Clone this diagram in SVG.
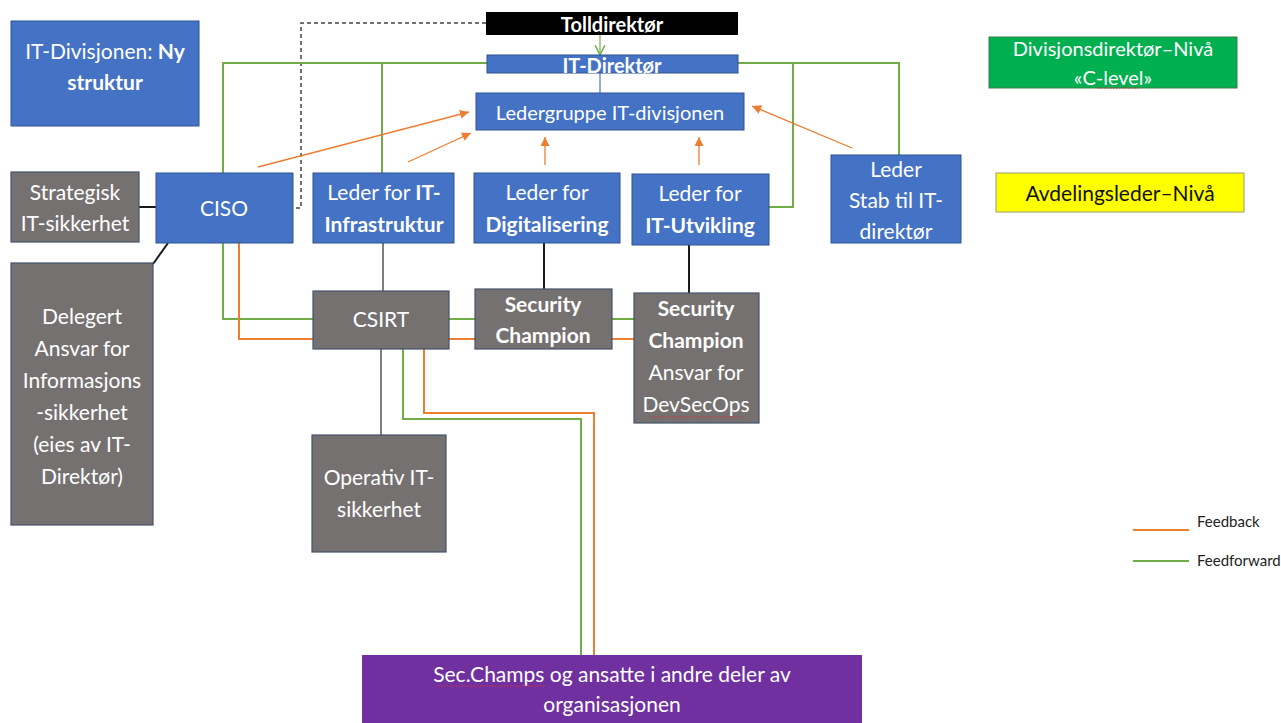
<svg xmlns="http://www.w3.org/2000/svg" width="1281" height="723" viewBox="0 0 1281 723">
  <defs>
    <style>
      text { font-family: Lato, "Open Sans", "Liberation Sans", sans-serif; font-size: 21px; fill: #ffffff; text-anchor: middle; }
      .b { font-weight: bold; }
      .blue { fill: #4472C4; stroke: #2F528F; stroke-width: 1; }
      .grey { fill: #767171; stroke: #44546A; stroke-width: 1.2; }
      .green { fill: none; stroke: #70AD47; stroke-width: 2; }
      .orange { fill: none; stroke: #ED7D31; stroke-width: 2; }
      .fb { fill: none; stroke: #ED7D31; stroke-width: 1.3; marker-end: url(#oarrow); }
      .blk { fill: none; stroke: #1a1a1a; stroke-width: 2; }
      .gry { fill: none; stroke: #555555; stroke-width: 1.5; }
      .squig { fill: none; stroke: #e03030; stroke-width: 1; stroke-dasharray: 1.5 1.5; }
      .legend { fill: #222222; font-size: 15px; text-anchor: start; }
    </style>
    <marker id="oarrow" viewBox="0 0 10 10" refX="10" refY="5" markerUnits="userSpaceOnUse" markerWidth="10" markerHeight="9" orient="auto">
      <path d="M0,0 L10,5 L0,10 z" fill="#ED7D31"/>
    </marker>
    <marker id="garrow" viewBox="0 0 10 10" refX="9" refY="5" markerUnits="userSpaceOnUse" markerWidth="12" markerHeight="12" orient="auto">
      <path d="M1,1 L9,5 L1,9" fill="none" stroke="#70AD47" stroke-width="1.2"/>
    </marker>
  </defs>

  <rect width="1281" height="723" fill="#ffffff"/>

  <!-- connectors -->
  <g id="connectors">
    <!-- dashed line from Tolldirektør to CISO -->
    <path d="M486,23 H301 V208 H293" fill="none" stroke="#444444" stroke-width="1.5" stroke-dasharray="4 3"/>
    <!-- feedforward from IT-Direktør -->
    <path class="green" d="M223,173 V63 H899 V155"/>
    <path class="green" d="M382,63 V173"/>
    <path class="green" d="M793,63 V207 H769"/>
    <!-- Tolldirektør -> IT-Direktør -->
    <path d="M600,35 V55" fill="none" stroke="#70AD47" stroke-width="1.2" marker-end="url(#garrow)"/>
    <!-- IT-Direktør - Ledergruppe -->
    <path d="M600,73 V93" fill="none" stroke="#6F8FC8" stroke-width="1.5"/>
    <!-- feedback arrows to Ledergruppe -->
    <path class="fb" d="M258,167 L469,112"/>
    <path class="fb" d="M408,162 L471,133"/>
    <path class="fb" d="M545,165 V137"/>
    <path class="fb" d="M699,165 V137"/>
    <path class="fb" d="M852,148 L752,106"/>
    <!-- CISO to CSIRT / Security Champions -->
    <path class="green" d="M223,243 V319 H634"/>
    <path class="orange" d="M239,243 V339 H634"/>
    <!-- CSIRT to Sec.Champs -->
    <path class="green" d="M403,349 V419 H581 V655"/>
    <path class="orange" d="M424,349 V413 H594 V655"/>
    <!-- solid reporting lines -->
    <path class="blk" d="M139,207 H156"/>
    <path class="blk" d="M153,264 L168,243"/>
    <path class="blk" d="M544,243 V289"/>
    <path class="blk" d="M689,245 V293"/>
    <path class="gry" d="M383,243 V291"/>
    <path class="gry" d="M381,349 V435"/>
  </g>

  <!-- nodes -->
  <g id="title">
    <rect class="blue" x="11" y="21" width="188" height="105"/>
    <text x="105" y="59">IT-Divisjonen: <tspan class="b">Ny</tspan></text>
    <text x="105" y="90" class="b">struktur</text>
  </g>

  <g id="tolldirektor">
    <rect x="486" y="12" width="252" height="23" fill="#000000"/>
    <text x="612" y="32" class="b" style="font-size:20px">Tolldirektør</text>
  </g>

  <g id="it-direktor">
    <rect class="blue" x="487" y="55" width="251" height="18"/>
    <text x="612" y="73" class="b" style="font-size:20px">IT-Direktør</text>
  </g>

  <g id="ledergruppe">
    <rect class="blue" x="476" y="93" width="268" height="37"/>
    <text x="610" y="120" style="font-size:20px">Ledergruppe IT-divisjonen</text>
  </g>

  <g id="strategisk">
    <rect class="grey" x="11" y="172" width="128" height="70"/>
    <text x="75" y="200">Strategisk</text>
    <text x="75" y="231">IT-sikkerhet</text>
  </g>

  <g id="ciso">
    <rect class="blue" x="156" y="173" width="137" height="70"/>
    <text x="224" y="216">CISO</text>
  </g>

  <g id="delegert">
    <rect class="grey" x="11" y="263" width="142" height="262"/>
    <text x="82" y="324">Delegert</text>
    <text x="82" y="356">Ansvar for</text>
    <text x="82" y="388">Informasjons</text>
    <text x="82" y="420">-sikkerhet</text>
    <text x="82" y="452">(eies av IT-</text>
    <text x="82" y="484">Direktør)</text>
  </g>

  <g id="leder-infrastruktur">
    <rect class="blue" x="313" y="173" width="141" height="70"/>
    <text x="384" y="200">Leder for <tspan class="b">IT-</tspan></text>
    <text x="384" y="232" class="b">Infrastruktur</text>
  </g>

  <g id="leder-digitalisering">
    <rect class="blue" x="474" y="173" width="146" height="70"/>
    <text x="547" y="200">Leder for</text>
    <text x="547" y="232" class="b">Digitalisering</text>
  </g>

  <g id="leder-utvikling">
    <rect class="blue" x="632" y="174" width="137" height="71"/>
    <text x="700" y="201">Leder for</text>
    <text x="700" y="233" class="b">IT-Utvikling</text>
  </g>

  <g id="leder-stab">
    <rect class="blue" x="831" y="155" width="130" height="88"/>
    <text x="896" y="177">Leder</text>
    <text x="896" y="208">Stab til IT-</text>
    <text x="896" y="239">direktør</text>
  </g>

  <g id="niva-c-level">
    <rect x="989" y="37" width="248" height="51" fill="#00B050" stroke="#3a7d4a" stroke-width="1"/>
    <text x="1113" y="56" style="font-size:20px">Divisjonsdirektør–Nivå</text>
    <text x="1113" y="85" style="font-size:20px">«C-level»</text>
    <path class="squig" d="M1098,88 H1140"/>
  </g>

  <g id="niva-avdelingsleder">
    <rect x="996" y="173" width="248" height="39" fill="#FFFF00" stroke="#9a9a7a" stroke-width="1"/>
    <text x="1120" y="201" style="fill:#111111">Avdelingsleder–Nivå</text>
  </g>

  <g id="csirt">
    <rect class="grey" x="313" y="291" width="136" height="58"/>
    <text x="381" y="327">CSIRT</text>
  </g>

  <g id="security-champion-1">
    <rect class="grey" x="475" y="289" width="137" height="60"/>
    <text x="543" y="312" class="b">Security</text>
    <text x="543" y="343" class="b">Champion</text>
  </g>

  <g id="security-champion-2">
    <rect class="grey" x="634" y="293" width="125" height="130"/>
    <text x="696" y="316" class="b">Security</text>
    <text x="696" y="348" class="b">Champion</text>
    <text x="696" y="380">Ansvar for</text>
    <text x="696" y="412">DevSecOps</text>
    <path class="squig" d="M651,417 H742"/>
  </g>

  <g id="operativ">
    <rect class="grey" x="312" y="435" width="134" height="117"/>
    <text x="379" y="485">Operativ IT-</text>
    <text x="379" y="517">sikkerhet</text>
  </g>

  <g id="sec-champs">
    <rect x="362" y="655" width="500" height="70" fill="#7030A0"/>
    <text x="612" y="682">Sec.Champs og ansatte i andre deler av</text>
    <text x="612" y="712">organisasjonen</text>
    <path class="squig" d="M438,686 H545"/>
  </g>

  <g id="legend">
    <path class="orange" d="M1133,530 H1189"/>
    <text class="legend" x="1197" y="527">Feedback</text>
    <path class="green" d="M1133,561 H1189"/>
    <text class="legend" x="1197" y="566">Feedforward</text>
  </g>
</svg>
